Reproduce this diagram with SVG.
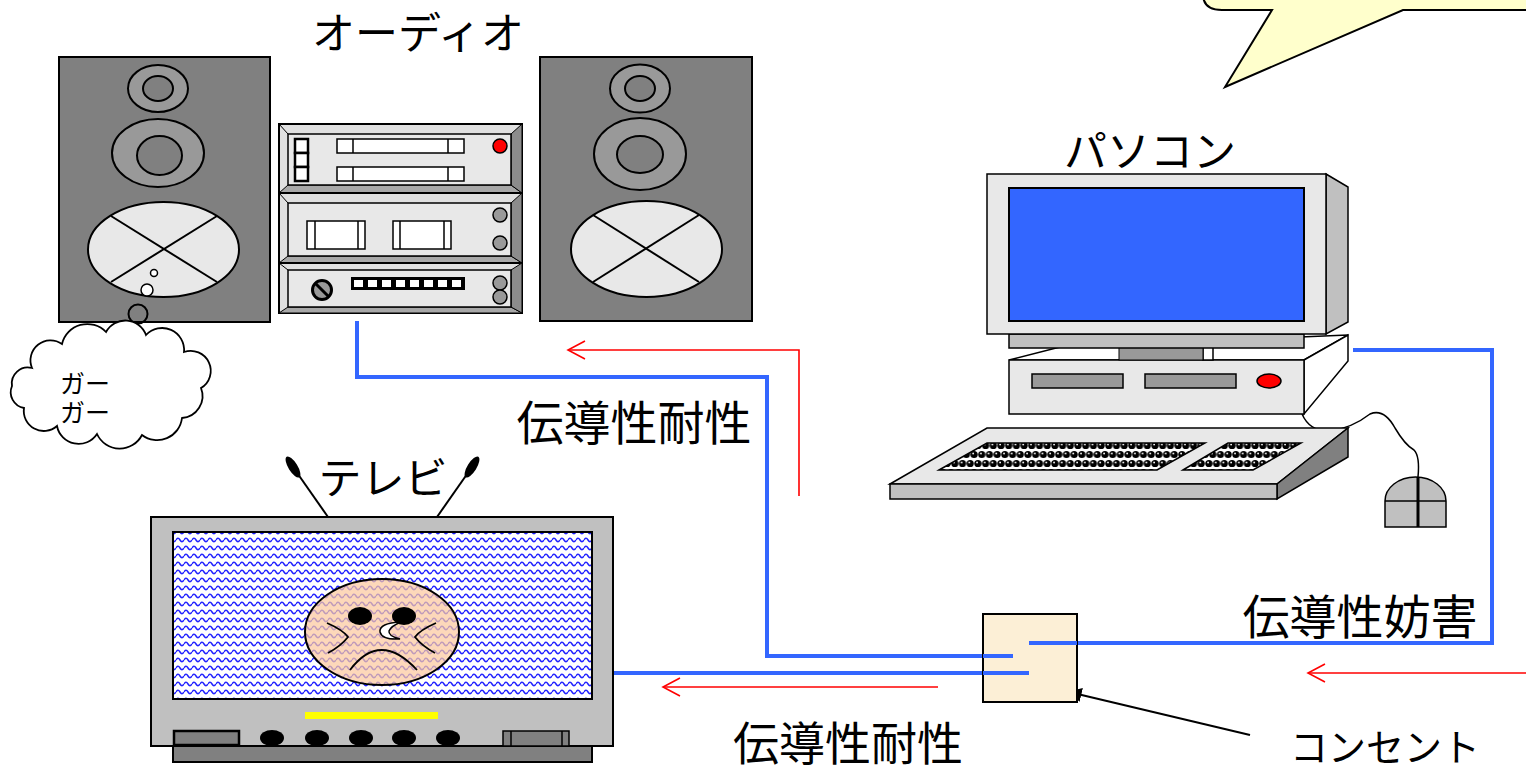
<svg xmlns="http://www.w3.org/2000/svg" width="1526" height="770" viewBox="0 0 1526 770">
  <defs>
    <style>
      .lbl { font-family: "Noto Sans CJK JP", "Noto Sans", sans-serif; fill: #000; text-anchor: middle; }
      .k { stroke: #000; stroke-width: 2; }
      .cable { fill: none; stroke: #3366ff; stroke-width: 4; }
      .noise { fill: none; stroke: #ff0000; stroke-width: 1.6; }
      .box { fill: #808080; stroke: #000; stroke-width: 2; }
      .ring { fill: #999999; stroke: #000; stroke-width: 2; }
      .cone { fill: #808080; stroke: #000; stroke-width: 2; }
      .woofer { fill: #e8e8e8; stroke: #000; stroke-width: 2; }
      .face { fill: #e8e8e8; stroke: #000; stroke-width: 1.5; }
      .knob { fill: #999999; stroke: #000; stroke-width: 1.5; }
    </style>
    <pattern id="waves" width="8" height="8" patternUnits="userSpaceOnUse">
      <rect width="8" height="8" fill="#ffffff"/>
      <path d="M0,4 Q2,0.6 4,4 T8,4" fill="none" stroke="#2222ff" stroke-width="1.5"/>
    </pattern>
    <pattern id="keys" width="15.4" height="18" patternUnits="userSpaceOnUse">
      <rect width="15.4" height="18" fill="#ffffff"/>
      <g fill="#000">
        <circle cx="3.85" cy="4.5" r="3.6"/>
        <circle cx="11.55" cy="4.5" r="3.6"/>
        <circle cx="0" cy="13.5" r="3.6"/>
        <circle cx="7.7" cy="13.5" r="3.6"/>
        <circle cx="15.4" cy="13.5" r="3.6"/>
      </g>
      <g fill="#ffffff">
        <circle cx="3" cy="3.5" r="0.9"/>
        <circle cx="10.7" cy="3.5" r="0.9"/>
        <circle cx="6.85" cy="12.5" r="0.9"/>
        <circle cx="14.55" cy="12.5" r="0.9"/>
      </g>
    </pattern>
    <marker id="solidHead" viewBox="0 0 10 10" refX="9" refY="5" markerWidth="7" markerHeight="7" orient="auto">
      <path d="M0,0 L10,5 L0,10 Z" fill="#000"/>
    </marker>
  </defs>

  <rect width="1526" height="770" fill="#ffffff"/>

  <!-- speech balloon at the top right -->
  <g id="balloon">
    <path d="M1203,-10 L1203,-6 Q1203,10 1222,10 L1272,10 L1225,87 L1403,10 L1530,10 L1530,-10 Z" fill="#ffffcc" stroke="none"/>
    <path d="M1203,-10 L1203,-6 Q1203,10 1222,10 L1272,10 L1225,87 L1403,10 L1530,10" fill="none" stroke="#000" stroke-width="2"/>
  </g>

  <!-- cables and noise paths -->
  <g id="connectors">
    <path class="cable" d="M357,321 L357,377 L767,377 L767,656 L1013,656"/>
    <path class="cable" d="M614,673 L1029,673"/>
    <path class="cable" d="M1029,643 L1492,643 L1492,350 L1353,350"/>
    <path class="noise" d="M799,496 L799,350 L568,350"/>
    <path class="noise" d="M585,341 L568,350 L585,359"/>
    <path class="noise" d="M938,687 L663,687"/>
    <path class="noise" d="M680,678 L663,687 L680,696"/>
    <path class="noise" d="M1526,673 L1308,673"/>
    <path class="noise" d="M1325,664 L1308,673 L1325,682"/>
    <line x1="1250" y1="735" x2="1069" y2="692" stroke="#000" stroke-width="2" marker-end="url(#solidHead)"/>
  </g>

  <!-- left speaker -->
  <g id="speaker-left">
    <rect class="box" x="59" y="57" width="211" height="265"/>
    <ellipse class="ring" cx="158" cy="88.5" rx="30" ry="23.5"/>
    <ellipse class="cone" cx="158" cy="88.5" rx="15" ry="12.5"/>
    <ellipse class="ring" cx="158" cy="153" rx="46" ry="34"/>
    <ellipse class="cone" cx="159.5" cy="155.5" rx="22.5" ry="19.5"/>
    <ellipse class="woofer" cx="163.5" cy="249.5" rx="75.5" ry="47.5"/>
    <line class="k" x1="111" y1="216" x2="217" y2="282"/>
    <line class="k" x1="111" y1="282" x2="217" y2="216"/>
    <circle cx="154" cy="273" r="3.5" fill="#ffffff" stroke="#000" stroke-width="1.5"/>
    <circle cx="147" cy="290" r="6" fill="#ffffff" stroke="#000" stroke-width="1.5"/>
    <circle cx="138" cy="314" r="9.5" fill="none" stroke="#000" stroke-width="2"/>
  </g>

  <!-- "ガーガー" cloud -->
  <g id="noise-cloud">
    <path d="M32,368 A20,20 0 0 1 62,344 A26,26 0 0 1 106,332 A22,22 0 0 1 146,335 A22,22 0 0 1 184,352 A20,20 0 0 1 201,388 A22,22 0 0 1 182,418 A25,25 0 0 1 142,435 A25,25 0 0 1 97,434 A22,22 0 0 1 57,426 A20,20 0 0 1 24,408 A16,16 0 0 1 12,386 A16,16 0 0 1 32,368 Z" fill="#ffffff" stroke="#000" stroke-width="1.8"/>
    <text class="lbl" font-size="25"><tspan x="85" y="393">ガー</tspan><tspan x="85" y="422">ガー</tspan></text>
  </g>

  <!-- stereo unit -->
  <g id="audio">
    <text class="lbl" x="418" y="49" font-size="43">オーディオ</text>
    <!-- top deck -->
    <rect x="279" y="124" width="243" height="69" fill="#e0e0e0" stroke="#000" stroke-width="2"/>
    <polygon points="279,193 288,185 511,185 522,193" fill="#a8a8a8" stroke="#000" stroke-width="1"/>
    <polygon points="522,124 511,134 511,185 522,193" fill="#8c8c8c" stroke="#000" stroke-width="1"/>
    <line x1="279" y1="124" x2="288" y2="134" stroke="#000" stroke-width="1"/>
    <rect class="face" x="288" y="134" width="223" height="51"/>
    <g fill="#ffffff" stroke="#000" stroke-width="2.5">
      <rect x="295" y="139" width="13" height="14"/>
      <rect x="295" y="153" width="13" height="14"/>
      <rect x="295" y="167" width="13" height="14"/>
    </g>
    <g fill="#ffffff" stroke="#000" stroke-width="1.5">
      <rect x="337" y="139" width="127" height="14"/>
      <rect x="337" y="167" width="127" height="14"/>
      <line x1="353" y1="139" x2="353" y2="153"/>
      <line x1="448" y1="139" x2="448" y2="153"/>
      <line x1="353" y1="167" x2="353" y2="181"/>
      <line x1="448" y1="167" x2="448" y2="181"/>
    </g>
    <circle cx="500" cy="146" r="7" fill="#ff0000" stroke="#000" stroke-width="1.5"/>
    <!-- middle deck -->
    <rect x="279" y="193" width="243" height="70" fill="#e0e0e0" stroke="#000" stroke-width="2"/>
    <polygon points="279,263 288,256 511,256 522,263" fill="#a8a8a8" stroke="#000" stroke-width="1"/>
    <polygon points="522,193 511,203 511,256 522,263" fill="#8c8c8c" stroke="#000" stroke-width="1"/>
    <line x1="279" y1="193" x2="288" y2="203" stroke="#000" stroke-width="1"/>
    <rect class="face" x="288" y="203" width="223" height="53"/>
    <g fill="#ffffff" stroke="#000" stroke-width="1.5">
      <rect x="307" y="221" width="58" height="28"/>
      <line x1="315" y1="221" x2="315" y2="249"/>
      <line x1="358" y1="221" x2="358" y2="249"/>
      <rect x="393" y="221" width="58" height="28"/>
      <line x1="400" y1="221" x2="400" y2="249"/>
      <line x1="444" y1="221" x2="444" y2="249"/>
    </g>
    <circle class="knob" cx="500" cy="215" r="7"/>
    <circle class="knob" cx="500" cy="243" r="7"/>
    <!-- bottom deck -->
    <rect x="279" y="263" width="243" height="50" fill="#e0e0e0" stroke="#000" stroke-width="2"/>
    <polygon points="279,313 288,307 511,307 522,313" fill="#a8a8a8" stroke="#000" stroke-width="1"/>
    <polygon points="522,263 511,270 511,307 522,313" fill="#8c8c8c" stroke="#000" stroke-width="1"/>
    <line x1="279" y1="263" x2="288" y2="270" stroke="#000" stroke-width="1"/>
    <rect class="face" x="288" y="270" width="223" height="37"/>
    <circle cx="322" cy="290" r="9.5" fill="#999999" stroke="#000" stroke-width="3"/>
    <line x1="315" y1="283" x2="329" y2="297" stroke="#000" stroke-width="3"/>
    <rect x="351" y="277" width="114" height="13" fill="#000"/>
    <g fill="#ffffff">
      <rect x="354" y="280" width="9" height="7"/>
      <rect x="368" y="280" width="9" height="7"/>
      <rect x="382" y="280" width="9" height="7"/>
      <rect x="396" y="280" width="9" height="7"/>
      <rect x="410" y="280" width="9" height="7"/>
      <rect x="424" y="280" width="9" height="7"/>
      <rect x="438" y="280" width="9" height="7"/>
      <rect x="452" y="280" width="9" height="7"/>
    </g>
    <circle class="knob" cx="500" cy="283" r="7"/>
    <circle class="knob" cx="500" cy="297" r="7"/>
  </g>

  <!-- right speaker -->
  <g id="speaker-right">
    <rect class="box" x="540" y="57" width="212" height="264"/>
    <ellipse class="ring" cx="640" cy="88.5" rx="30" ry="24"/>
    <ellipse class="cone" cx="640" cy="88.5" rx="15" ry="12.5"/>
    <ellipse class="ring" cx="640" cy="154" rx="46" ry="36"/>
    <ellipse class="cone" cx="640" cy="154.5" rx="23" ry="18.5"/>
    <ellipse class="woofer" cx="646.5" cy="249" rx="75.5" ry="48"/>
    <line class="k" x1="593" y1="215" x2="699" y2="282"/>
    <line class="k" x1="593" y1="282" x2="699" y2="215"/>
  </g>

  <!-- television -->
  <g id="tv">
    <text class="lbl" x="383" y="494" font-size="43">テレビ</text>
    <line x1="328" y1="517" x2="293" y2="467" stroke="#000" stroke-width="2"/>
    <line x1="437" y1="517" x2="472" y2="467" stroke="#000" stroke-width="2"/>
    <ellipse cx="293" cy="467" rx="4.5" ry="12" fill="#000" transform="rotate(-32 293 467)"/>
    <ellipse cx="472" cy="467" rx="4.5" ry="12" fill="#000" transform="rotate(32 472 467)"/>
    <rect x="173" y="746" width="419" height="16" fill="#808080" stroke="#000" stroke-width="2"/>
    <rect x="151" y="517" width="462" height="229" fill="#c0c0c0" stroke="#000" stroke-width="2"/>
    <rect x="173" y="532" width="419" height="167" fill="url(#waves)" stroke="#000" stroke-width="2"/>
    <!-- face on the screen -->
    <ellipse cx="382" cy="632" rx="77" ry="53" fill="#fcc9a0" fill-opacity="0.72" stroke="#000" stroke-width="2"/>
    <ellipse cx="360" cy="616" rx="12" ry="9" fill="#000"/>
    <ellipse cx="404" cy="616" rx="12" ry="9" fill="#000"/>
    <path d="M401,622 Q379,623 380,632 Q382,640 400,639 Q388,636 389,631 Q391,626 401,622 Z" fill="#ffffff" stroke="#000" stroke-width="1.5"/>
    <path d="M327,623 Q343,630 348,637 Q341,646 328,653" fill="none" stroke="#000" stroke-width="1.8"/>
    <path d="M436,623 Q420,630 415,637 Q422,646 435,653" fill="none" stroke="#000" stroke-width="1.8"/>
    <path d="M350,670 Q380,630 417,670" fill="none" stroke="#000" stroke-width="1.8"/>
    <!-- front panel -->
    <rect x="305" y="712" width="133" height="7" fill="#ffff00"/>
    <rect x="174" y="731" width="65" height="14" fill="#808080" stroke="#000" stroke-width="2.5"/>
    <g fill="#000">
      <ellipse cx="272" cy="738" rx="12" ry="8"/>
      <ellipse cx="317" cy="738" rx="12" ry="8"/>
      <ellipse cx="361" cy="738" rx="12" ry="8"/>
      <ellipse cx="404" cy="738" rx="12" ry="8"/>
      <ellipse cx="448" cy="738" rx="12" ry="8"/>
    </g>
    <rect x="503" y="731" width="66" height="15" fill="#808080" stroke="#000" stroke-width="1.5"/>
    <line x1="511" y1="731" x2="511" y2="746" stroke="#000" stroke-width="1.5"/>
    <line x1="562" y1="731" x2="562" y2="746" stroke="#000" stroke-width="1.5"/>
  </g>

  <!-- personal computer -->
  <g id="pc">
    <text class="lbl" x="1150" y="167" font-size="43">パソコン</text>
    <!-- mouse cord -->
    <path d="M1302,414 Q1310,432 1330,431 Q1352,428 1370,414 Q1384,408 1395,428 Q1405,445 1414,450 Q1420,456 1418,477" fill="none" stroke="#000" stroke-width="1.5"/>
    <!-- system unit -->
    <polygon points="1009,360 1060,347 1348,335 1304,360" fill="#ffffff" stroke="#000" stroke-width="1.5"/>
    <polygon points="1304,360 1348,335 1348,361 1304,414" fill="#ffffff" stroke="#000" stroke-width="1.5"/>
    <rect x="1009" y="360" width="295" height="54" fill="#e8e8e8" stroke="#000" stroke-width="1.5"/>
    <rect x="1032" y="374" width="91" height="14" fill="#999999" stroke="#000" stroke-width="1.5"/>
    <rect x="1145" y="374" width="91" height="14" fill="#999999" stroke="#000" stroke-width="1.5"/>
    <ellipse cx="1269" cy="381" rx="12" ry="7" fill="#ff0000" stroke="#000" stroke-width="1.5"/>
    <!-- monitor stand and screen -->
    <rect x="1203" y="346" width="10" height="14" fill="#ffffff" stroke="#000" stroke-width="1.5"/>
    <rect x="1119" y="346" width="84" height="14" fill="#999999" stroke="#000" stroke-width="1"/>
    <rect x="1009" y="334" width="295" height="14" fill="#c0c0c0" stroke="#000" stroke-width="1.5"/>
    <polygon points="1326,174 1348,187 1348,322 1326,334" fill="#c0c0c0" stroke="#000" stroke-width="1.5"/>
    <rect x="987" y="174" width="339" height="160" fill="#e8e8e8" stroke="#000" stroke-width="1.5"/>
    <rect x="1009" y="188" width="295" height="133" fill="#3366ff" stroke="#000" stroke-width="2"/>
    <!-- keyboard -->
    <polygon points="890,484 987,428 1348,428 1277,484" fill="#e8e8e8" stroke="#000" stroke-width="1.5"/>
    <polygon points="1277,484 1348,428 1348,457 1277,499" fill="#808080" stroke="#000" stroke-width="1.5"/>
    <rect x="890" y="484" width="387" height="15" fill="#c0c0c0" stroke="#000" stroke-width="1.5"/>
    <polygon points="939,470 987,443 1205,443 1157,470" fill="url(#keys)" stroke="#000" stroke-width="1.5"/>
    <polygon points="1183,470 1228,443 1301,443 1253,470" fill="url(#keys)" stroke="#000" stroke-width="1.5"/>
    <!-- mouse -->
    <path d="M1385,527 L1385,501 A30.5,24 0 0 1 1446,501 L1446,527 Z" fill="#c0c0c0" stroke="#000" stroke-width="1.5"/>
    <line x1="1385" y1="501" x2="1446" y2="501" stroke="#000" stroke-width="1.5"/>
    <line x1="1418" y1="477" x2="1418" y2="527" stroke="#000" stroke-width="3"/>
  </g>

  <!-- wall outlet -->
  <g id="outlet">
    <rect x="983" y="614" width="94" height="88" fill="#fcefd6" stroke="#000" stroke-width="2"/>
    <path class="cable" d="M983,656 L1013,656 M983,673 L1029,673 M1029,643 L1077,643"/>
  </g>

  <!-- labels -->
  <g id="labels">
    <text class="lbl" x="634" y="440" font-size="47">伝導性耐性</text>
    <text class="lbl" x="1360" y="634" font-size="47">伝導性妨害</text>
    <text class="lbl" x="848" y="760" font-size="46">伝導性耐性</text>
    <text class="lbl" x="1385" y="761" font-size="38">コンセント</text>
  </g>
</svg>
